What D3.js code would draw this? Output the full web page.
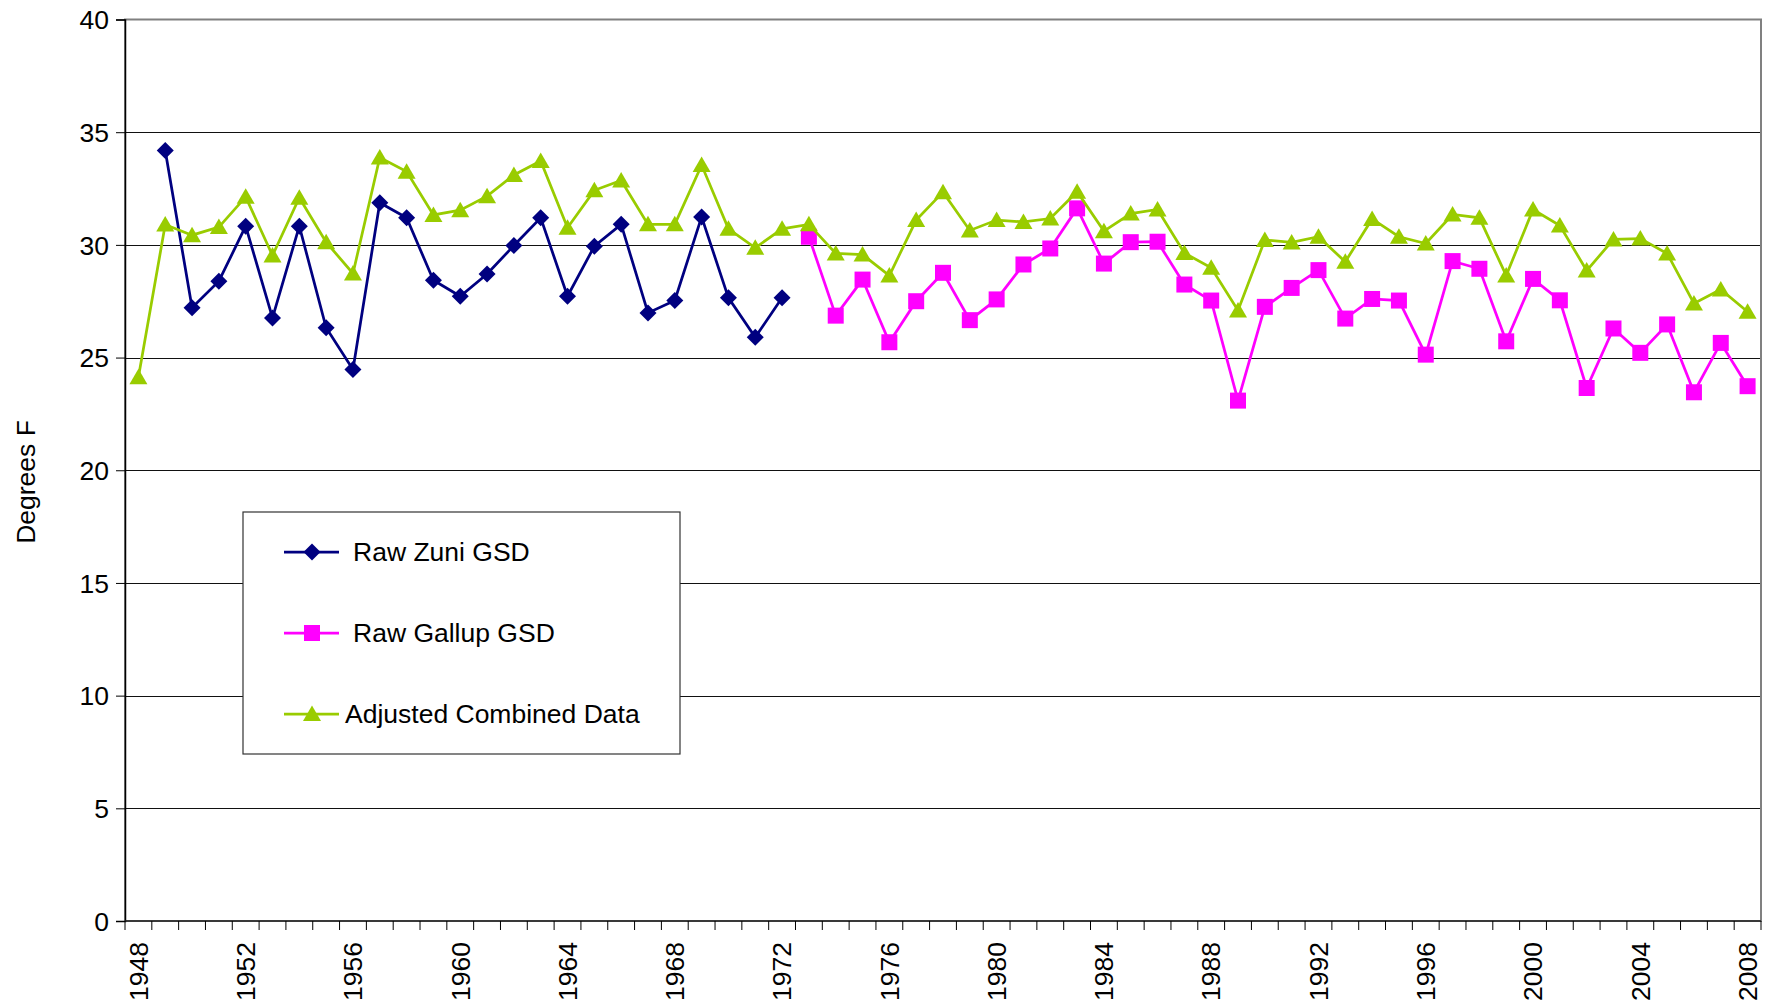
<!DOCTYPE html>
<html>
<head>
<meta charset="utf-8">
<script src="https://cdn.jsdelivr.net/npm/d3@7"></script>
<style>
  html, body { margin: 0; padding: 0; background: #fff; }
  svg text { font-family: 'Liberation Sans', Arial, sans-serif; fill: #000; }
</style>
</head>
<body>
<div id="chart"></div>
<script>
// categories
const years = d3.range(1948, 2009);
const tickYears = [1948, 1952, 1956, 1960, 1964, 1968, 1972, 1976, 1980, 1984, 1988, 1992, 1996, 2000, 2004, 2008];
const yTicks = [0, 5, 10, 15, 20, 25, 30, 35, 40];

// Raw Zuni GSD, 1949-1972
const zuniStart = 1949;
const zuni = [34.19, 27.21, 28.39, 30.83, 26.76, 30.83, 26.32, 24.47, 31.87, 31.2,
  28.43, 27.72, 28.71, 29.97, 31.2, 27.72, 29.94, 30.91, 26.98, 27.53,
  31.24, 27.65, 25.9, 27.65];

// Raw Gallup GSD, 1973-2008
const gallupStart = 1973;
const gallup = [30.36, 26.86, 28.46, 25.68, 27.5, 28.76, 26.66, 27.58, 29.13, 29.84,
  31.62, 29.17, 30.12, 30.14, 28.24, 27.53, 23.09, 27.25, 28.09, 28.88,
  26.73, 27.6, 27.53, 25.13, 29.28, 28.94, 25.72, 28.49, 27.54, 23.65,
  26.29, 25.21, 26.47, 23.46, 25.65, 23.73];

// Adjusted Combined Data, 1948-2008
const adjustedStart = 1948;
const adjusted = [24.13, 30.9, 30.43, 30.79, 32.13, 29.53, 32.09, 30.12, 28.73, 33.88,
  33.25, 31.33, 31.54, 32.16, 33.1, 33.72, 30.76, 32.42, 32.86, 30.91,
  30.91, 33.54, 30.71, 29.87, 30.71, 30.91, 29.62, 29.57, 28.64, 31.1,
  32.34, 30.64, 31.1, 31.02, 31.17, 32.36, 30.61, 31.39, 31.57, 29.64,
  28.98, 27.09, 30.22, 30.11, 30.36, 29.25, 31.15, 30.36, 30.06, 31.35,
  31.2, 28.64, 31.57, 30.86, 28.86, 30.24, 30.28, 29.62, 27.4, 28.02,
  27.03];

const seriesNames = ['Raw Zuni GSD', 'Raw Gallup GSD', 'Adjusted Combined Data'];

const width = 1767;
const height = 1006;
const plot = { left: 125, right: 1761, top: 19.5, bottom: 921 };
const fontSize = '26.5px';

const toPoints = (start, values) => values.map((v, i) => ({ year: start + i, value: v }));

const series = [
  { name: seriesNames[0], color: '#000080', marker: 'diamond', data: toPoints(zuniStart, zuni) },
  { name: seriesNames[1], color: '#FF00FF', marker: 'square', data: toPoints(gallupStart, gallup) },
  { name: seriesNames[2], color: '#99CC00', marker: 'triangle', data: toPoints(adjustedStart, adjusted) },
];

const x = d3.scaleBand().domain(years).range([plot.left, plot.right]).padding(0);
const y = d3.scaleLinear().domain([0, 40]).range([plot.bottom, plot.top]);
const cx = (yr) => x(yr) + x.bandwidth() / 2;

const svg = d3
  .select('#chart')
  .append('svg')
  .attr('width', width)
  .attr('height', height);

// gridlines
svg
  .append('g')
  .selectAll('line')
  .data(yTicks.filter((t) => t > 0 && t < 40))
  .enter()
  .append('line')
  .attr('x1', plot.left)
  .attr('x2', plot.right)
  .attr('y1', (d) => Math.round(y(d)) + 0.5)
  .attr('y2', (d) => Math.round(y(d)) + 0.5)
  .attr('stroke', '#111')
  .attr('stroke-width', 1);

// plot area border (top/right) in gray
svg
  .append('rect')
  .attr('x', plot.left)
  .attr('y', plot.top)
  .attr('width', plot.right - plot.left)
  .attr('height', plot.bottom - plot.top)
  .attr('fill', 'none')
  .attr('stroke', '#808080')
  .attr('stroke-width', 2);

// y axis
const yAxis = svg
  .append('g')
  .attr('transform', `translate(${plot.left},0)`)
  .call(d3.axisLeft(y).tickValues(yTicks).tickSize(9).tickPadding(7).tickFormat(d3.format('d')));
yAxis.select('.domain').attr('stroke', '#000').attr('stroke-width', 1.5);
yAxis.selectAll('.tick line').attr('stroke', '#000');
yAxis.selectAll('text').style('font-size', fontSize).attr('dy', '0.35em');

// x axis: tick marks on category boundaries
const xg = svg.append('g');
xg.append('line')
  .attr('x1', plot.left)
  .attr('x2', plot.right)
  .attr('y1', plot.bottom)
  .attr('y2', plot.bottom)
  .attr('stroke', '#222')
  .attr('stroke-width', 1.5);
xg.selectAll('line.tk')
  .data(years.concat([2009]))
  .enter()
  .append('line')
  .attr('class', 'tk')
  .attr('x1', (d) => (d === 2009 ? plot.right : x(d)))
  .attr('x2', (d) => (d === 2009 ? plot.right : x(d)))
  .attr('y1', plot.bottom)
  .attr('y2', plot.bottom + 9)
  .attr('stroke', '#000')
  .attr('stroke-width', 1);
xg.selectAll('text')
  .data(tickYears)
  .enter()
  .append('text')
  .attr('transform', (d) => `translate(${cx(d)},${plot.bottom + 21}) rotate(-90)`)
  .attr('text-anchor', 'end')
  .attr('dy', '0.35em')
  .style('font-size', fontSize)
  .text((d) => d);

// y axis title
svg
  .append('text')
  .attr('transform', 'translate(26,482) rotate(-90)')
  .attr('text-anchor', 'middle')
  .attr('dy', '0.35em')
  .style('font-size', fontSize)
  .text('Degrees F');

const markerPath = (type) => {
  if (type === 'diamond') return 'M0,-8.5L8.5,0L0,8.5L-8.5,0Z';
  if (type === 'square') return 'M-8,-8H8V8H-8Z';
  return 'M0,-8.5L9,7L-9,7Z';
};

const line = d3
  .line()
  .x((d) => cx(d.year))
  .y((d) => y(d.value));

series.forEach((s) => {
  const g = svg.append('g');
  g.append('path')
    .datum(s.data)
    .attr('d', line)
    .attr('fill', 'none')
    .attr('stroke', s.color)
    .attr('stroke-width', 2.75)
    .attr('stroke-linejoin', 'miter');
  g.selectAll('path.mk')
    .data(s.data)
    .enter()
    .append('path')
    .attr('class', 'mk')
    .attr('transform', (d) => `translate(${cx(d.year)},${y(d.value)})`)
    .attr('d', markerPath(s.marker))
    .attr('fill', s.color);
});

// legend
const legend = svg.append('g');
legend
  .append('rect')
  .attr('x', 243)
  .attr('y', 512)
  .attr('width', 437)
  .attr('height', 242)
  .attr('fill', '#fff')
  .attr('stroke', '#333')
  .attr('stroke-width', 1.2);

const legendRows = [552, 633, 714];
series.forEach((s, i) => {
  const ly = legendRows[i];
  legend
    .append('line')
    .attr('x1', 284)
    .attr('x2', 339)
    .attr('y1', ly)
    .attr('y2', ly)
    .attr('stroke', s.color)
    .attr('stroke-width', 2.75);
  legend
    .append('path')
    .attr('transform', `translate(312,${ly})`)
    .attr('d', markerPath(s.marker))
    .attr('fill', s.color);
  legend
    .append('text')
    .attr('x', i === 2 ? 345 : 353)
    .attr('y', ly)
    .attr('dy', '0.35em')
    .style('font-size', fontSize)
    .text(s.name);
});
</script>
</body>
</html>
